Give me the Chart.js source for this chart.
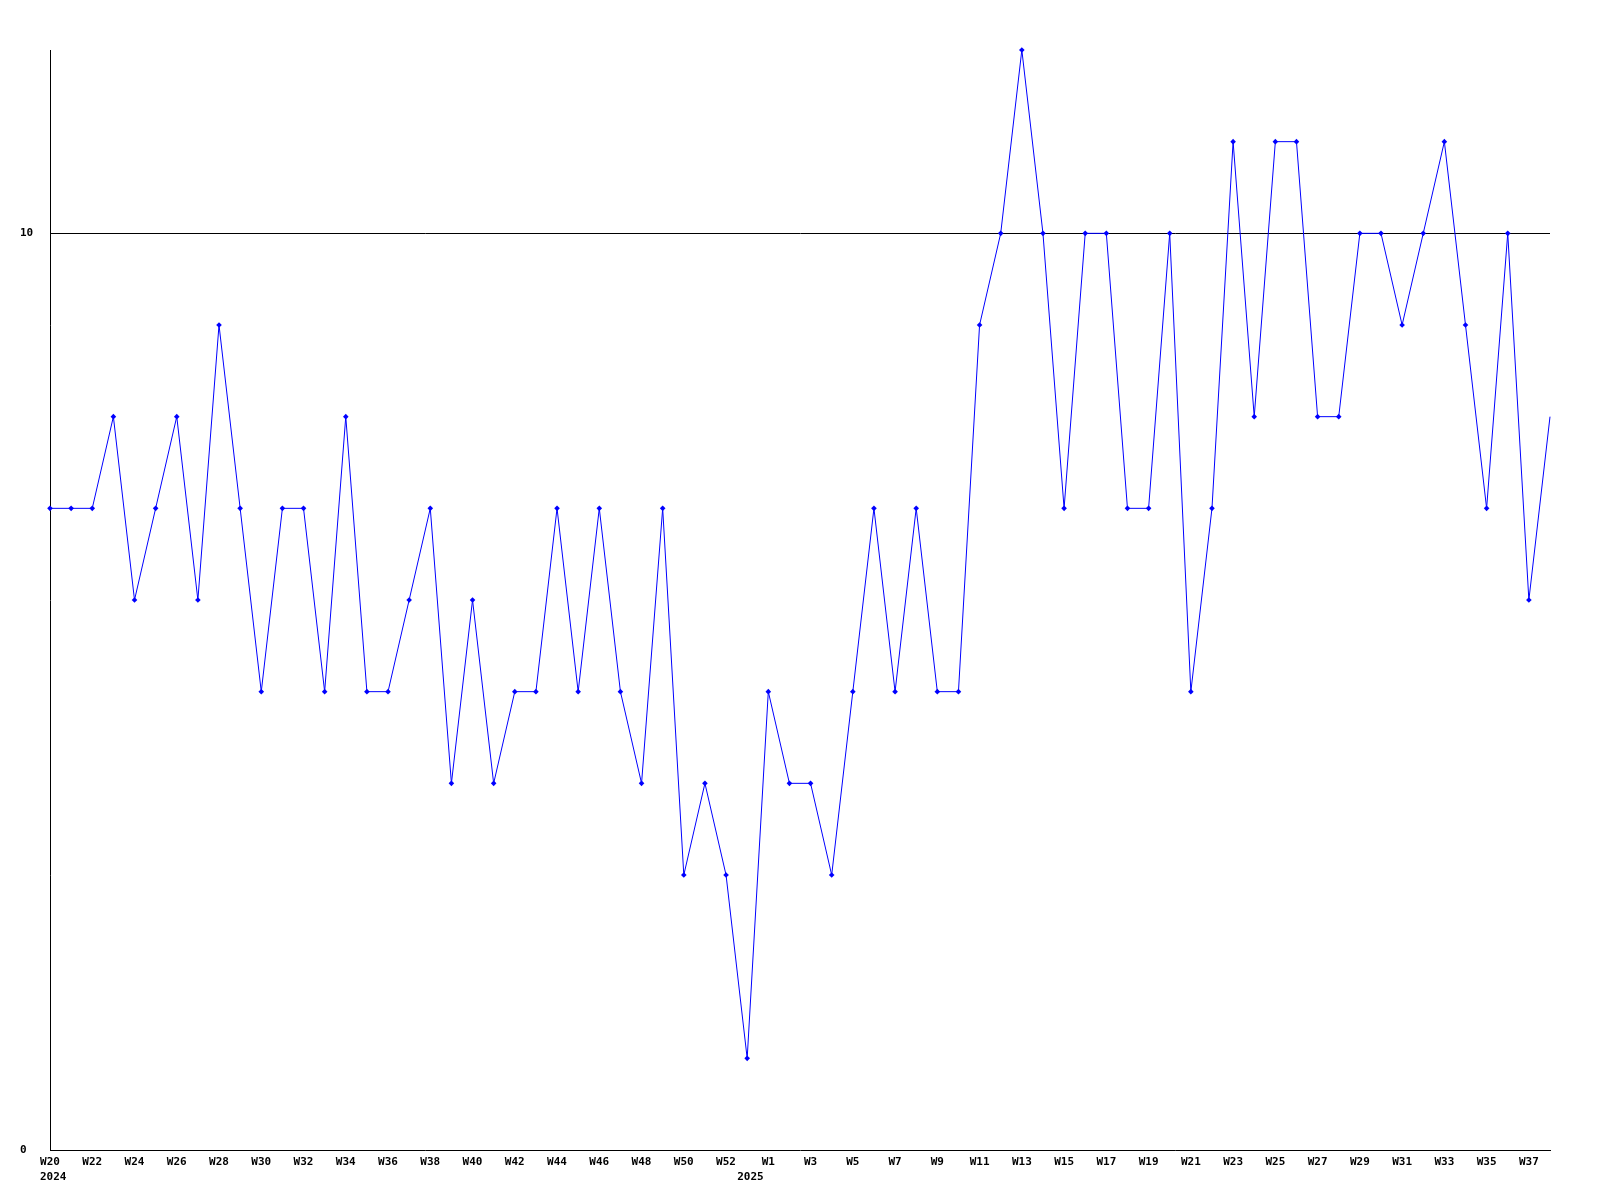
<!DOCTYPE html>
<html>
<head>
<meta charset="utf-8">
<script src="https://cdn.jsdelivr.net/npm/chart.js@4/dist/chart.umd.min.js"></script>
<style>
  html, body { margin: 0; padding: 0; background: #fff; }
  #wrap { width: 1600px; height: 1200px; }
</style>
</head>
<body>
<div id="wrap"><canvas id="c" width="1600" height="1200"></canvas></div>
<script>
const weeks = [
  "W20","W21","W22","W23","W24","W25","W26","W27","W28","W29","W30","W31","W32","W33","W34","W35","W36","W37","W38","W39",
  "W40","W41","W42","W43","W44","W45","W46","W47","W48","W49","W50","W51","W52","W53",
  "W1","W2","W3","W4","W5","W6","W7","W8","W9","W10","W11","W12","W13","W14","W15","W16","W17","W18","W19",
  "W20","W21","W22","W23","W24","W25","W26","W27","W28","W29","W30","W31","W32","W33","W34","W35","W36","W37","W38"
];
const values = [
  7,7,7,8,6,7,8,6,9,7,5,7,7,5,8,5,5,6,7,4,
  6,4,5,5,7,5,7,5,4,7,3,4,3,1,
  5,4,4,3,5,7,5,7,5,5,9,10,12,10,7,10,10,7,7,
  10,5,7,11,8,11,11,8,8,10,10,9,10,11,9,7,10,6,8
];
const yearLabels = ["2024", "2025"];
const yearStartIndex = [0, 33];
const yTicks = [0, 10];
const yMin = 0, yMax = 12;

const FONT = "'DejaVu Sans Mono', 'Liberation Mono', monospace";

const yearPlugin = {
  id: 'yearLabels',
  afterDraw(chart) {
    const x = chart.scales.x;
    const ctx = chart.ctx;
    ctx.save();
    ctx.font = "bold 11px " + FONT;
    ctx.fillStyle = "#000";
    ctx.textAlign = "left";
    ctx.textBaseline = "middle";
    yearLabels.forEach((lbl, i) => {
      const px = x.getPixelForValue(yearStartIndex[i]);
      ctx.fillText(lbl, px - 10, 1177);
    });
    ctx.restore();
  }
};

new Chart(document.getElementById('c'), {
  type: 'line',
  data: {
    labels: weeks,
    datasets: [{
      data: values,
      borderColor: '#0000ff',
      backgroundColor: '#0000ff',
      borderWidth: 1,
      tension: 0,
      clip: false,
      pointStyle: 'rectRot',
      pointRadius: (c) => c.dataIndex === values.length - 1 ? 0 : 2.8,
      pointBorderWidth: 0,
      pointBackgroundColor: '#0000ff',
      pointHoverRadius: 2.8
    }]
  },
  plugins: [yearPlugin],
  options: {
    responsive: false,
    animation: false,
    devicePixelRatio: 1,
    layout: { padding: { top: 50, right: 50, left: 20, bottom: 0 } },
    plugins: { legend: { display: false }, tooltip: { enabled: false } },
    scales: {
      x: {
        type: 'category',
        offset: false,
        afterFit: (s) => { s.height = 50; },
        grid: { display: false, drawTicks: false },
        border: { display: true, color: '#000', width: 1 },
        ticks: {
          autoSkip: false,
          maxRotation: 0,
          minRotation: 0,
          padding: 6,
          color: '#000',
          font: { family: FONT, size: 11, weight: 'bold' },
          callback: function(v, i) { return i % 2 === 0 ? weeks[i] : ''; }
        }
      },
      y: {
        min: yMin,
        max: yMax,
        afterFit: (s) => { s.width = 30; },
        afterBuildTicks: (s) => { s.ticks = yTicks.map(v => ({ value: v })); },
        grid: {
          drawTicks: false,
          color: (c) => c.tick && c.tick.value === 10 ? '#000' : 'rgba(0,0,0,0)',
          lineWidth: 1
        },
        border: { display: true, color: '#000', width: 1 },
        ticks: {
          crossAlign: 'far',
          padding: 0,
          color: '#000',
          font: { family: FONT, size: 11, weight: 'bold' }
        }
      }
    }
  }
});
</script>
</body>
</html>
